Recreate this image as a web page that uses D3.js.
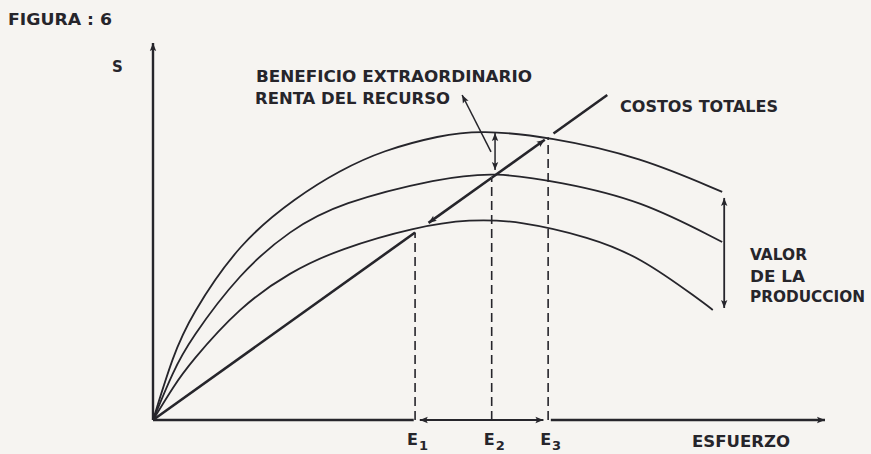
<!DOCTYPE html>
<html><head><meta charset="utf-8">
<script src="https://cdn.jsdelivr.net/npm/d3@7"></script>
<style>html,body{margin:0;padding:0;background:#f6f4f1;} svg{display:block;}</style>
</head><body>
<svg id="chart" width="871" height="454"></svg>
<script>
// ---- data (effort vs. value, arbitrary units) ----
const effortTop = [0, 0.30, 0.55, 1.29, 2.14, 2.78, 3.42, 4.27, 4.87, 5.91, 7.25, 8.47];
const valueTop  = [0, 1.72, 2.73, 4.72, 5.92, 6.62, 7.15, 7.55, 7.69, 7.51, 6.98, 6.05];
const effortMid = [0, 0.30, 0.55, 1.29, 2.04, 2.78, 4.27, 5.09, 6.06, 7.25, 8.47];
const valueMid  = [0, 1.30, 2.12, 3.90, 5.04, 5.76, 6.42, 6.58, 6.31, 5.84, 4.72];
const effortLow = [0, 0.30, 0.55, 1.29, 2.04, 2.78, 3.90, 4.72, 5.46, 6.50, 7.25, 8.14, 8.33];
const valueLow  = [0, 0.88, 1.51, 3.00, 3.93, 4.54, 5.12, 5.33, 5.28, 4.85, 4.32, 3.18, 2.92];
const costEffort = [0, 6.76];
const costValue  = [0, 8.62];
const eLevels = [3.90, 5.04, 5.88];
const eLabels = ["1", "2", "3"];
const rentArrow = {x: 5.09, from: 7.61, to: 6.63};
const valueArrow = {x: 8.50, from: 5.89, to: 2.97};
const rentLeader = [[5.03, 7.11], [4.60, 8.62]];

const svg = d3.select("#chart");
const W = 871, H = 454;
svg.append("rect").attr("width", W).attr("height", H).attr("fill", "#f6f4f1");

const x = d3.scaleLinear().domain([0, 10]).range([153, 825]);
const y = d3.scaleLinear().domain([0, 10]).range([420, 43]);
const ink = "#26252b";

const defs = svg.append("defs");
defs.append("marker").attr("id", "ah")
  .attr("viewBox", "0 0 10 10").attr("refX", 10).attr("refY", 5)
  .attr("markerWidth", 12).attr("markerHeight", 8)
  .attr("markerUnits", "userSpaceOnUse").attr("orient", "auto-start-reverse")
  .append("path").attr("d", "M0,1 L10,5 L0,9 L2,5 z").attr("fill", ink);

const costAt = e => costValue[1] / costEffort[1] * e;
const line = d3.line().x(d => x(d[0])).y(d => y(d[1]));

// axes (no ticks; drawn from scales)
svg.append("path").attr("d", line([[0, 0], [0, 10]]))
  .attr("stroke", ink).attr("stroke-width", 2.4).attr("fill", "none").attr("marker-end", "url(#ah)");
svg.append("path").attr("d", line([[0, 0], [eLevels[0] - 0.02, 0]]))
  .attr("stroke", ink).attr("stroke-width", 2.4).attr("fill", "none");
svg.append("path").attr("d", line([[eLevels[2] + 0.04, 0], [10, 0]]))
  .attr("stroke", ink).attr("stroke-width", 2.4).attr("fill", "none").attr("marker-end", "url(#ah)");
// E1-E3 double arrow on axis
svg.append("path").attr("d", line([[eLevels[0] + 0.07, 0], [eLevels[2] - 0.07, 0]]))
  .attr("stroke", ink).attr("stroke-width", 2).attr("fill", "none")
  .attr("marker-start", "url(#ah)").attr("marker-end", "url(#ah)");

// revenue curves
const curve = d3.line().x(d => x(d[0])).y(d => y(d[1])).curve(d3.curveBasis);
[[effortTop, valueTop], [effortMid, valueMid], [effortLow, valueLow]].forEach(([ex, vy]) => {
  svg.append("path").attr("d", curve(ex.map((e, i) => [e, vy[i]])))
    .attr("stroke", ink).attr("stroke-width", 1.8).attr("fill", "none");
});

// dashed verticals
eLevels.forEach(e => {
  svg.append("path").attr("d", line([[e, 0], [e, costAt(e)]]))
    .attr("stroke", ink).attr("stroke-width", 1.6).attr("stroke-dasharray", "9,5").attr("fill", "none");
});

// total cost line (with arrows between E levels)
const costSegs = [
  {a: 0, b: eLevels[0], m: false},
  {a: eLevels[1], b: eLevels[0] + 0.2, m: true},
  {a: eLevels[1], b: eLevels[2] - 0.05, m: true},
  {a: eLevels[2] + 0.08, b: costEffort[1], m: false}
];
costSegs.forEach(s => {
  const p = svg.append("path").attr("d", line([[s.a, costAt(s.a)], [s.b, costAt(s.b)]]))
    .attr("stroke", ink).attr("stroke-width", 2.6).attr("fill", "none");
  if (s.m) p.attr("marker-end", "url(#ah)");
});

// rent double arrow at E2
svg.append("path").attr("d", line([[rentArrow.x, rentArrow.from], [rentArrow.x, rentArrow.to]]))
  .attr("stroke", ink).attr("stroke-width", 1.5).attr("fill", "none")
  .attr("marker-start", "url(#ah)").attr("marker-end", "url(#ah)");
// leader from label
svg.append("path").attr("d", line(rentLeader))
  .attr("stroke", ink).attr("stroke-width", 1.5).attr("fill", "none").attr("marker-end", "url(#ah)");
// value double arrow
svg.append("path").attr("d", line([[valueArrow.x, valueArrow.from], [valueArrow.x, valueArrow.to]]))
  .attr("stroke", ink).attr("stroke-width", 1.8).attr("fill", "none")
  .attr("marker-start", "url(#ah)").attr("marker-end", "url(#ah)");

// text
const font = "'DejaVu Sans', sans-serif";
function label(t, px, py, size, len) {
  const el = svg.append("text").attr("x", px).attr("y", py).text(t)
    .attr("font-family", font).attr("font-weight", "bold").attr("font-size", size).attr("fill", ink);
  if (len) el.attr("textLength", len).attr("lengthAdjust", "spacingAndGlyphs");
  return el;
}
label("FIGURA : 6", 8, 25, 16, 104);
label("S", 112, 72, 15);
label("BENEFICIO EXTRAORDINARIO", 256, 82, 15, 276);
label("RENTA DEL RECURSO", 255, 104, 15, 195);
label("COSTOS TOTALES", 620, 112, 15, 158);
label("VALOR", 750, 260, 15, 57);
label("DE LA", 750, 282, 15, 55);
label("PRODUCCION", 750, 302, 15, 115);
label("ESFUERZO", 692, 447, 15, 98);

eLevels.forEach((e, i) => {
  const t = svg.append("text").attr("x", x(e) - 8).attr("y", 445)
    .attr("font-family", font).attr("font-weight", "bold").attr("font-size", 16).attr("fill", ink);
  t.append("tspan").text("E");
  t.append("tspan").attr("dy", 5).attr("dx", 1).attr("font-size", 13).text(eLabels[i]);
});
</script>
</body></html>
